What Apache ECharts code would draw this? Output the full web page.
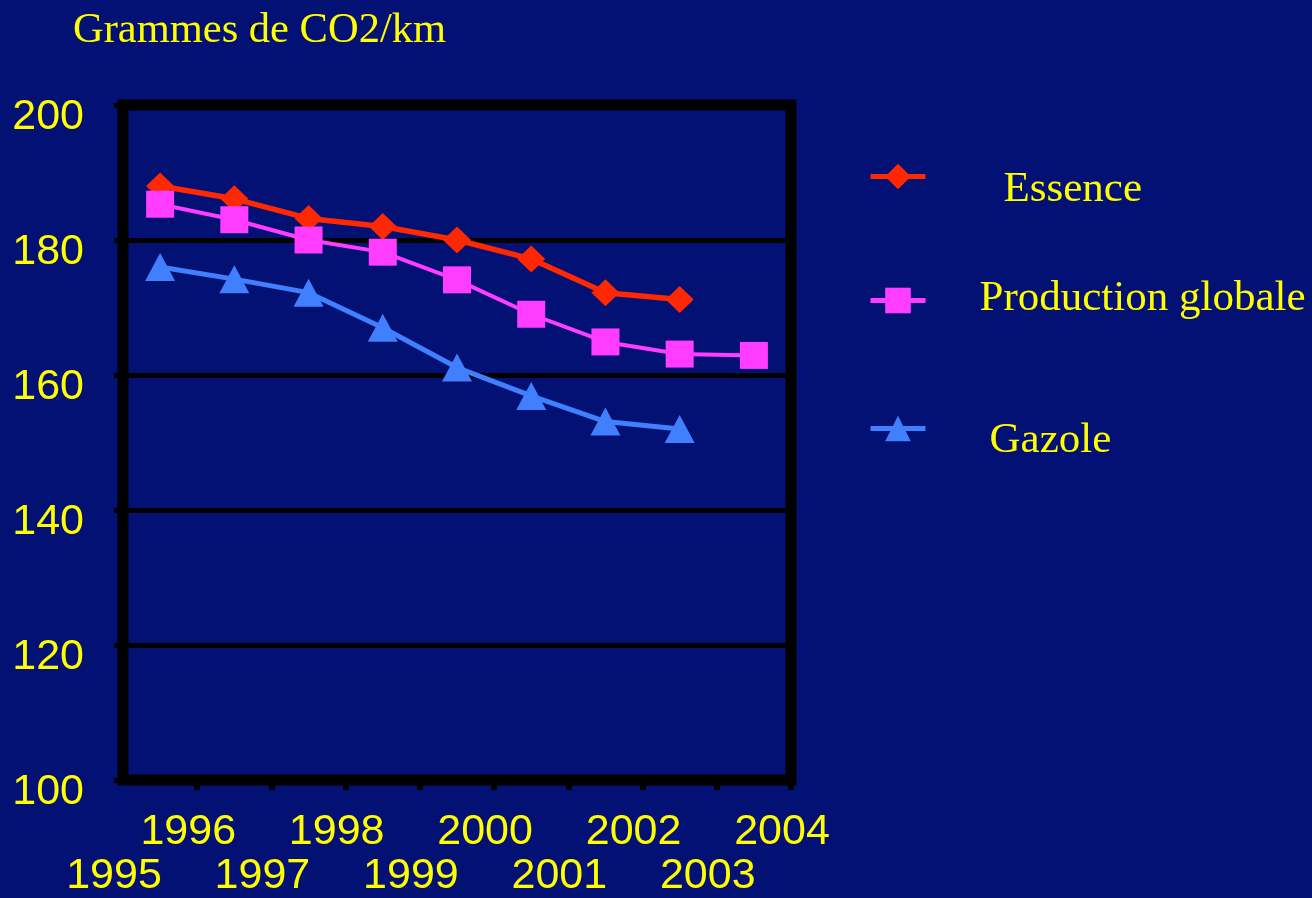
<!DOCTYPE html>
<html>
<head>
<meta charset="utf-8">
<script src="https://cdn.jsdelivr.net/npm/echarts@6/dist/echarts.min.js"></script>
<style>
html,body{margin:0;padding:0;background:#021173;}
#chart{width:1312px;height:898px;}
</style>
</head>
<body>
<div id="chart"></div>
<script>
// Years (each value is plotted at mid-year, between the year ticks)
const years = [1995, 1996, 1997, 1998, 1999, 2000, 2001, 2002, 2003];
const essence = [188, 186.1, 183.2, 182, 180, 177.2, 172.2, 171.2];
const production = [185.3, 183, 180, 178.2, 174.1, 169, 164.9, 163.1, 162.9];
const gazole = [176, 174.2, 172.2, 167, 161.1, 156.9, 153.1, 152];
const seriesNames = ['Essence', 'Production globale', 'Gazole'];
const titleText = 'Grammes de CO2/km';

const toPoints = vals => vals.map((v, i) => [years[i] + 0.5, v]);

const chart = echarts.init(document.getElementById('chart'));
const yellow = '#FFFF00';
const serif = "'Liberation Serif', 'Times New Roman', serif";
const sans = "'Liberation Sans', Arial, sans-serif";

function legendItem(name, top, lineHeight, before, padLeft) {
  return {
    data: [name], left: 868, top: top, padding: 0,
    itemWidth: 55, itemHeight: 32, selectedMode: false,
    lineStyle: {width: 5},
    formatter: n => before ? '\n' + n : n + '\n',
    textStyle: {color: yellow, fontFamily: serif, fontSize: 43, lineHeight: lineHeight,
      padding: [0, 0, 0, padLeft]}
  };
}

function yearAxis(even, showTicks) {
  return {
    type: 'value', min: 1995, max: 2004, interval: 1, position: 'bottom',
    axisLine: {show: false},
    axisTick: {show: showTicks, length: 10, lineStyle: {color: '#000', width: 6}},
    splitLine: {show: false},
    axisLabel: {
      color: yellow, fontFamily: sans, fontSize: 43, lineHeight: 44,
      margin: even ? 30 : 74, verticalAlign: 'top', padding: [0, 18, 0, 0],
      showMinLabel: !even, showMaxLabel: even,
      formatter: v => ((v % 2 === 0) === even) ? String(v) : ''
    }
  };
}

chart.setOption({
  animation: false,
  backgroundColor: '#021173',
  title: {text: titleText, left: 68, top: 4,
    textStyle: {color: yellow, fontFamily: serif, fontSize: 42.5, fontWeight: 'normal'}},
  graphic: [{type: 'text', left: 248, top: 22, silent: true,
    style: {text: '2', fill: '#000', font: '24px ' + serif}}],
  legend: [
    legendItem(seriesNames[0], 142, 26, true, 73),
    legendItem(seriesNames[1], 277, 4, false, 49),
    legendItem(seriesNames[2], 395, 24, true, 59)
  ],
  grid: {left: 123, right: 521, top: 105, bottom: 117, show: true,
    borderColor: '#000', borderWidth: 11, backgroundColor: 'transparent'},
  xAxis: [yearAxis(true, true), yearAxis(false, false)],
  yAxis: {
    type: 'value', min: 100, max: 200, interval: 20,
    axisLine: {show: false},
    axisTick: {show: true, length: 9, lineStyle: {color: '#000', width: 5}},
    splitLine: {show: true, lineStyle: {color: '#000', width: 5}},
    axisLabel: {color: yellow, fontFamily: sans, fontSize: 43, margin: 39,
      lineHeight: 24, showMinLabel: true, showMaxLabel: true,
      formatter: v => '\n' + v}
  },
  series: [
    {name: seriesNames[0], type: 'line', data: toPoints(essence),
      symbol: 'diamond', symbolSize: [28, 27],
      itemStyle: {color: '#FF2800'}, lineStyle: {color: '#FF2800', width: 5.5}},
    {name: seriesNames[1], type: 'line', data: toPoints(production),
      symbol: 'rect', symbolSize: [28, 27],
      itemStyle: {color: '#FF3CFF'}, lineStyle: {color: '#FF3CFF', width: 4}},
    {name: seriesNames[2], type: 'line', data: toPoints(gazole),
      symbol: 'triangle', symbolSize: [30, 28],
      itemStyle: {color: '#4080FF'}, lineStyle: {color: '#4080FF', width: 5}}
  ]
});
</script>
</body>
</html>
